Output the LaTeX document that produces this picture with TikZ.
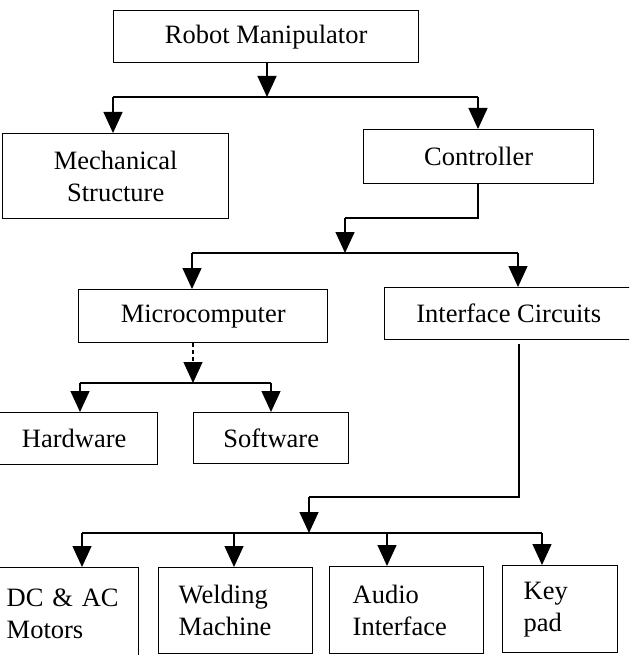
\documentclass[tikz,border=0pt]{standalone}
\usepackage{fontspec}
\setmainfont{Liberation Serif}
\usetikzlibrary{arrows.meta}
\begin{document}
\begin{tikzpicture}[x=1pt,y=-1pt,
  box/.style={draw, line width=1.4pt, inner sep=0pt, anchor=north west, align=center,
              font=\fontsize{26.5}{32}\selectfont},
  lbox/.style={box, align=left},
  ln/.style={line width=1.3pt},
  tip/.style={-{Triangle[width=19pt,length=21pt]}},
  arr/.style={ln, tip},
]
\useasboundingbox (0,0) rectangle (629,655);
\fill[white] (0,0) rectangle (629,655);
\clip (0,0) rectangle (629,655);

% boxes
\node[box, minimum width=305pt, minimum height=52pt] (robot) at (113,10) {Robot Manipulator};
\node[box, minimum width=226pt, minimum height=85pt] (mech) at (2,133) {Mechanical\\Structure};
\node[box, minimum width=230pt, minimum height=54pt] (ctrl) at (363,129) {Controller};
\node[box, minimum width=249pt, minimum height=53pt] (micro) at (78,289) {Microcomputer};
\node[box, minimum width=248pt, minimum height=52pt] (iface) at (384,287) {Interface Circuits};
\node[box, minimum width=167pt, minimum height=52pt] (hw) at (-10,412) {Hardware};
\node[box, minimum width=155pt, minimum height=51pt] (sw) at (193,412) {Software};
\node[lbox, text width=116pt, inner xsep=16pt, minimum height=93pt] (dc) at (-10,567) {DC \& AC\\Motors};
\node[lbox, text width=114pt, inner xsep=20pt, minimum height=86pt] (weld) at (158,567) {Welding\\Machine};
\node[lbox, text width=108pt, inner xsep=23pt, minimum height=87pt] (audio) at (329,566) {Audio\\Interface};
\node[lbox, text width=73pt, inner xsep=21pt, minimum height=87pt] (key) at (502,565) {Key\\pad};

% level 1
\coordinate (j1) at (267,97);
\coordinate (j1l) at (113,97);
\coordinate (j1r) at (478,97);
\draw[arr] (j1 |- robot.south) -- (j1);
\draw[ln] (j1l) -- (j1r);
\draw[arr] (j1l) -- (j1l |- mech.north);
\draw[arr] (j1r) -- (j1r |- ctrl.north);

% controller
\coordinate (c1) at (478,218);
\coordinate (c2) at (345,218);
\coordinate (j2) at (345,253);
\coordinate (j2l) at (192,253);
\coordinate (j2r) at (518,253);
\draw[ln] (c1 |- ctrl.south) -- (c1) -- (c2);
\draw[arr] (c2) -- (j2);
\draw[ln] (j2l) -- (j2r);
\draw[arr] (j2l) -- (j2l |- micro.north);
\draw[arr] (j2r) -- (j2r |- iface.north);

% microcomputer
\coordinate (j3) at (193,383);
\coordinate (j3l) at (80,383);
\coordinate (j3r) at (271,383);
\draw[line width=1.1pt, dash pattern=on 4pt off 3pt, tip] (j3 |- micro.south) -- (j3);
\draw[ln] (j3l) -- (j3r);
\draw[arr] (j3l) -- (j3l |- hw.north);
\draw[arr] (j3r) -- (j3r |- sw.north);

% interface circuits
\coordinate (i0) at (519,344);
\coordinate (i1) at (519,497);
\coordinate (i2) at (309,497);
\coordinate (j4) at (309,533);
\coordinate (k1) at (82,533);
\coordinate (k2) at (234,533);
\coordinate (k3) at (387,533);
\coordinate (k4) at (542,533);
\draw[ln] (i0) -- (i1) -- (i2);
\draw[arr] (i2) -- (j4);
\draw[ln] (k1) -- (k4);
\draw[arr] (k1) -- (k1 |- dc.north);
\draw[arr] (k2) -- (k2 |- weld.north);
\draw[arr] (k3) -- (k3 |- audio.north);
\draw[arr] (k4) -- (k4 |- key.north);
\end{tikzpicture}
\end{document}
